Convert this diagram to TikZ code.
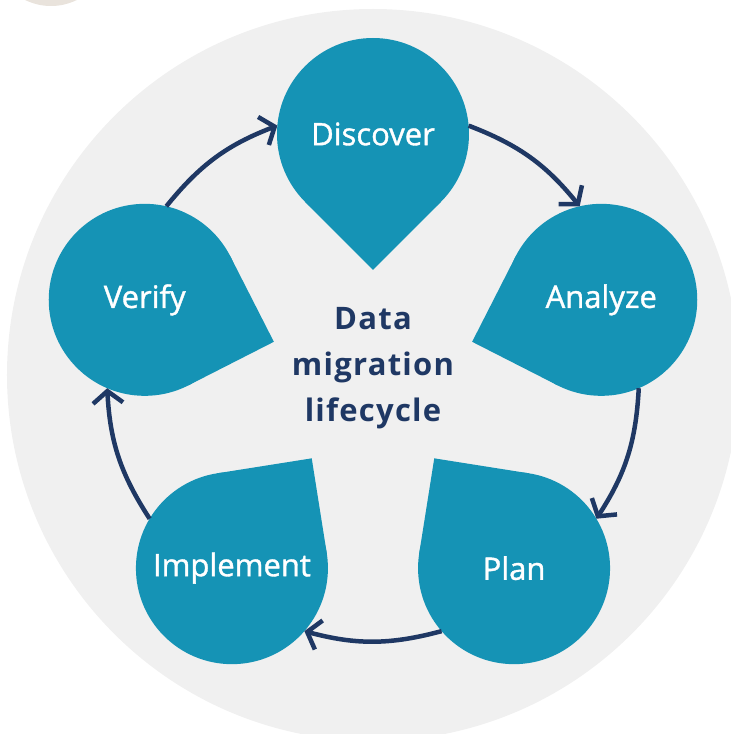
\documentclass[tikz,border=0pt]{standalone}
\usepackage{fontspec}
\setmainfont{Open Sans}
\newfontfamily\semifont{Open Sans}[BoldFont={Open Sans},BoldFeatures={FakeBold=1.2}]
\newfontfamily\titlefont{Open Sans}[LetterSpace=4]
\usepackage{tikz}
\usetikzlibrary{calc,arrows.meta}
\definecolor{CycleTeal}{RGB}{21,147,181}
\definecolor{CycleNavy}{RGB}{31,56,100}
\definecolor{CycleGray}{RGB}{240,240,240}
\definecolor{CycleBeige}{RGB}{233,227,220}

\begin{document}
\begin{tikzpicture}[
    x=1pt,y=1pt,
    drop/.style={
        circle,
        fill=CycleTeal,
        minimum size=192pt,
        inner sep=0pt,
        outer sep=0pt,
        text=white,
        font=\semifont\bfseries\fontsize{31}{36}\selectfont
    },
    tip/.style={
        fill=CycleTeal
    },
    cyclearrow/.style={
        -{Straight Barb[length=12pt,width=30pt]},
        line width=4.5pt,
        draw=CycleNavy
    }
]

\clip (-373,-360) rectangle (358,374);

% backdrop
\fill[CycleBeige] (-322,427) circle (59);
\fill[CycleGray] (0,-1) circle (366);

\node[drop] (discover) at (90:240)
{Discover};

\node[drop] (analyze) at (18:240)
{Analyze};

\node[drop] (plan) at (-54:240)
{Plan};

\node[drop] (implement) at (-126:240)
{Implement};

\node[drop] (verify) at (162:240)
{Verify};

% pointed corners toward the middle
\fill[tip] (discover.225) -- ($(discover.225)+(discover.315)-(discover.center)$) -- (discover.315) -- cycle;
\fill[tip] (analyze.153) -- ($(analyze.153)+(analyze.243)-(analyze.center)$) -- (analyze.243) -- cycle;
\fill[tip] (plan.81) -- ($(plan.81)+(plan.171)-(plan.center)$) -- (plan.171) -- cycle;
\fill[tip] (implement.9) -- ($(implement.9)+(implement.99)-(implement.center)$) -- (implement.99) -- cycle;
\fill[tip] (verify.297) -- ($(verify.297)+(verify.27)-(verify.center)$) -- (verify.27) -- cycle;

\node[text=CycleNavy,align=center,font=\titlefont\bfseries\fontsize{31}{46}\selectfont] (title) at (0,6)
{Data\\migration\\lifecycle};

\draw[cyclearrow]
(discover.5) to[bend left=15] (analyze.103);

\draw[cyclearrow]
(analyze.-67) to[bend left=15] (plan.31);

\draw[cyclearrow]
(plan.-139) to[bend left=15] (implement.-41);

\draw[cyclearrow]
(implement.149) to[bend left=15] (verify.247);

\draw[cyclearrow]
(verify.77) to[bend left=15] (discover.175);

\end{tikzpicture}
\end{document}
